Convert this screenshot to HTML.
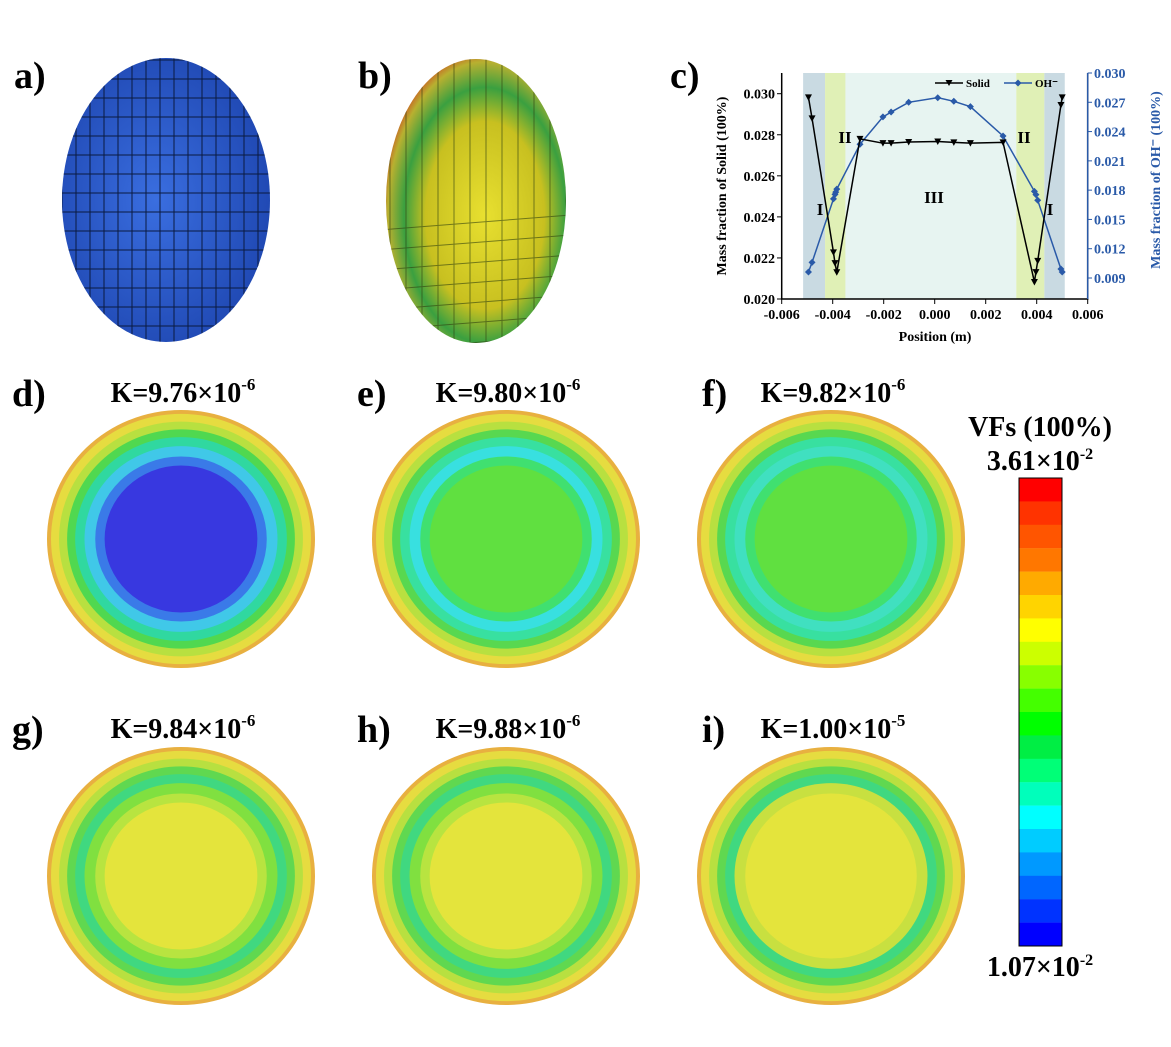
<!DOCTYPE html>
<html><head><meta charset="utf-8"><style>
body{margin:0;background:#fff;width:1171px;height:1047px;overflow:hidden;font-family:"Liberation Serif",serif}
svg{position:absolute;left:0;top:0}
.lab{font-weight:bold;font-size:38px}
.k{font-weight:bold;font-size:28px}
.tk{font-weight:bold;font-size:14px}
</style></head><body>
<svg id="s" width="1171" height="1047" viewBox="0 0 1171 1047">
<defs>
<radialGradient id="gb" cx="0.45" cy="0.5" r="0.6"><stop offset="0" stop-color="#3a6ee0"/><stop offset="1" stop-color="#1e46b0"/></radialGradient>
<radialGradient id="gy" cx="0.55" cy="0.55" r="0.6"><stop offset="0" stop-color="#e8e030"/><stop offset="0.55" stop-color="#c8c020"/><stop offset="0.75" stop-color="#3aa040"/><stop offset="0.9" stop-color="#b8b030"/><stop offset="1" stop-color="#d04020"/></radialGradient>
<clipPath id="ca"><ellipse cx="166" cy="200" rx="104" ry="142"/></clipPath>
<clipPath id="cb"><ellipse cx="476" cy="201" rx="90" ry="142"/></clipPath>
</defs>
<text class="lab" x="14" y="88">a)</text>
<text class="lab" x="358" y="88">b)</text>
<text class="lab" x="670" y="88">c)</text>
<g>
<ellipse cx="166" cy="200" rx="104" ry="142" fill="url(#gb)"/>
<g clip-path="url(#ca)" stroke="#0a1a40" stroke-width="1" id="meshA"></g>
</g>
<g>
<ellipse cx="476" cy="201" rx="90" ry="142" fill="url(#gy)"/>
<g clip-path="url(#cb)" stroke="#304010" stroke-width="1" opacity="0.6" id="meshB"></g>
</g>
<g id="chart"></g>
<g id="disks"></g>
<g id="cbar"></g>
<text class="k" x="1040" y="436" text-anchor="middle">VFs (100%)</text>
<text class="k" x="1040" y="470" text-anchor="middle">3.61×10<tspan font-size="16" dy="-11">-2</tspan></text>
<text class="k" x="1040" y="976" text-anchor="middle">1.07×10<tspan font-size="16" dy="-11">-2</tspan></text>
</svg>
<script>
const NS='http://www.w3.org/2000/svg';
function mk(t,a,p){const e=document.createElementNS(NS,t);for(const k in a)e.setAttribute(k,a[k]);(p||document.getElementById('s')).appendChild(e);return e;}
const mA=document.getElementById('meshA'),mB=document.getElementById('meshB');
for(let i=0;i<16;i++){mk('line',{x1:62+i*14,y1:50,x2:62+i*14,y2:350},mA);mk('line',{x1:60,y1:60+i*19,x2:275,y2:60+i*19},mA);}
for(let i=0;i<12;i++){mk('line',{x1:390+i*16,y1:50,x2:390+i*16,y2:350},mB);mk('line',{x1:380,y1:230+i*20,x2:570,y2:215+i*20},mB);}

const solidX=[-0.00495,-0.00481,-0.00397,-0.00391,-0.00384,-0.00293,-0.00203,-0.00171,-0.00102,0.00012,0.00075,0.0014,0.00268,0.00391,0.00397,0.00404,0.00495,0.005];
const solidY=[0.02982,0.0288,0.02227,0.02175,0.0213,0.0278,0.02759,0.02759,0.02765,0.02767,0.02763,0.02759,0.02763,0.02083,0.02131,0.02186,0.02945,0.02982];
const ohX=[-0.00495,-0.00481,-0.00397,-0.00391,-0.00388,-0.00384,-0.00293,-0.00203,-0.00171,-0.00102,0.00012,0.00075,0.0014,0.00268,0.00391,0.00397,0.00404,0.00495,0.005];
const ohY=[0.00961,0.0106,0.0171,0.01757,0.0178,0.0181,0.0227,0.0255,0.026,0.027,0.02747,0.0271,0.02655,0.02355,0.01788,0.01754,0.01696,0.00992,0.00961];
const xTicks=['-0.006','-0.004','-0.002','0.000','0.002','0.004','0.006'];
const yLTicks=['0.020','0.022','0.024','0.026','0.028','0.030'];
const yRTicks=['0.009','0.012','0.015','0.018','0.021','0.024','0.027','0.030'];
const bandEdges=[-0.00516,-0.0043,-0.0035,0.0032,0.0043,0.0051];
const X=v=>781.7+(v+0.006)*25500, YL=v=>299-(v-0.020)*20530, YR=v=>278-(v-0.009)*9762;
const C=document.getElementById('chart');
const bcol=['#c9dae2','#e0f0b6','#e7f4f1','#e0f0b6','#c9dae2'];
for(let i=0;i<5;i++){const r=mk('rect',{x:X(bandEdges[i]),y:73,width:X(bandEdges[i+1])-X(bandEdges[i]),height:226,fill:bcol[i]},C);}
mk('path',{d:'M781.7 73V299H1087.7V73',fill:'none',stroke:'#000','stroke-width':1.5},C);
mk('line',{x1:1087.7,y1:73,x2:1087.7,y2:299,stroke:'#2a5aa8','stroke-width':1.5},C);
xTicks.forEach(t=>{const x=X(+t);mk('line',{x1:x,y1:299,x2:x,y2:304,stroke:'#000'},C);const e=mk('text',{x:x,y:319,'text-anchor':'middle',class:'tk'},C);e.textContent=t;});
yLTicks.forEach(t=>{const y=YL(+t);mk('line',{x1:777,y1:y,x2:781.7,y2:y,stroke:'#000'},C);const e=mk('text',{x:775,y:y+5,'text-anchor':'end',class:'tk'},C);e.textContent=t;});
yRTicks.forEach(t=>{const y=YR(+t);mk('line',{x1:1087.7,y1:y,x2:1092,y2:y,stroke:'#2a5aa8'},C);const e=mk('text',{x:1094,y:y+5,class:'tk',fill:'#2a5aa8'},C);e.textContent=t;});
let t=mk('text',{x:935,y:341,'text-anchor':'middle',class:'tk'},C);t.textContent='Position (m)';
t=mk('text',{x:0,y:0,'text-anchor':'middle',class:'tk',transform:'translate(726,186) rotate(-90)'},C);t.textContent='Mass fraction of Solid (100%)';
t=mk('text',{x:0,y:0,'text-anchor':'middle',class:'tk',fill:'#2a5aa8',transform:'translate(1160,180) rotate(-90)'},C);t.textContent='Mass fraction of OH⁻ (100%)';
[['II',845,143],['II',1024,143],['III',934,203],['I',820,215],['I',1050,215]].forEach(a=>{const e=mk('text',{x:a[1],y:a[2],'text-anchor':'middle',class:'tk'},C);e.style.fontSize='17px';e.textContent=a[0];});
let p=mk('polyline',{points:ohX.map((x,i)=>X(x)+','+YR(ohY[i])).join(' '),fill:'none',stroke:'#2a5aa8','stroke-width':1.5},C);
ohX.forEach((x,i)=>{const cx=X(x),cy=YR(ohY[i]);const m=mk('path',{d:`M${cx} ${cy-3.5}L${cx+3.5} ${cy}L${cx} ${cy+3.5}L${cx-3.5} ${cy}Z`,fill:'#2a5aa8'},C);});
p=mk('polyline',{points:solidX.map((x,i)=>X(x)+','+YL(solidY[i])).join(' '),fill:'none',stroke:'#000','stroke-width':1.5},C);
solidX.forEach((x,i)=>{const cx=X(x),cy=YL(solidY[i]);const m=mk('path',{d:`M${cx-3.5} ${cy-3}L${cx+3.5} ${cy-3}L${cx} ${cy+3.5}Z`,fill:'#000'},C);});
mk('line',{x1:935,y1:83,x2:963,y2:83,stroke:'#000','stroke-width':1.5},C);mk('path',{d:'M945.5 80L952.5 80L949 86Z'},C);
t=mk('text',{x:966,y:87,class:'tk'},C);t.style.fontSize='11px';t.textContent='Solid';
mk('line',{x1:1004,y1:83,x2:1032,y2:83,stroke:'#2a5aa8','stroke-width':1.5},C);mk('path',{d:'M1018 79.5L1021.5 83L1018 86.5L1014.5 83Z',fill:'#2a5aa8'},C);
t=mk('text',{x:1035,y:87,class:'tk'},C);t.style.fontSize='11px';t.textContent='OH⁻';

const cbColors=['#ff0000','#ff3300','#ff5500','#ff7700','#ffaa00','#ffd400','#ffff00','#ccff00','#88ff00','#44ff00','#00ff00','#00ee44','#00ff77','#00ffbb','#00ffff','#00ccff','#0099ff','#0066ff','#0033ff','#0000ff'];
const CB=document.getElementById('cbar');
cbColors.forEach((c,i)=>mk('rect',{x:1019,y:478+i*23.4,width:43,height:23.6,fill:c},CB));
mk('rect',{x:1019,y:478,width:43,height:468,fill:'none',stroke:'#000'},CB);

const diskLabels=['d)','e)','f)','g)','h)','i)'];
const diskK=['9.76×10','9.80×10','9.82×10','9.84×10','9.88×10','1.00×10'];
const diskExp=['-6','-6','-6','-6','-6','-5'];
const rings=[
['#e8b040','#e6dc40','#b8e040','#50d850','#30d8a0','#40c8e8','#3a7ae8','#3838e0'],
['#e8b040','#e6dc40','#b8e040','#58d850','#38e0a0','#38e0e0','#40e070','#60e040'],
['#e8b040','#e6dc40','#b8e040','#58d850','#38e0a0','#40e0c0','#40e070','#60e040'],
['#e8b040','#e6dc40','#b8e040','#60d850','#40d880','#80e040','#b8e440','#e4e43c'],
['#e8b040','#e6dc40','#b8e040','#60d850','#40d880','#80e040','#b8e440','#e4e43c'],
['#e8b040','#e6dc40','#b8e040','#60d850','#40d880','#c8e040','#e4e43c','#e4e43c']];
const ringR=[1,0.97,0.91,0.85,0.79,0.72,0.64,0.57];
const D=document.getElementById('disks');
for(let k=0;k<6;k++){
 const cx=181+(k%3)*325, cy=k<3?539:876, lx=12+(k%3)*345, ty=k<3?402:738;
 const g=mk('g',{},D);
 rings[k].forEach((c,i)=>mk('ellipse',{cx:cx,cy:cy,rx:134*ringR[i],ry:129*ringR[i],fill:c},g));
 let e=mk('text',{x:lx,y:ty+4,class:'lab'},D);e.textContent=diskLabels[k];
 e=mk('text',{x:cx+2,y:ty,class:'k','text-anchor':'middle'},D);e.innerHTML='K='+diskK[k]+'<tspan font-size="17" dy="-12">'+diskExp[k]+'</tspan>';
}
</script>
</body></html>
